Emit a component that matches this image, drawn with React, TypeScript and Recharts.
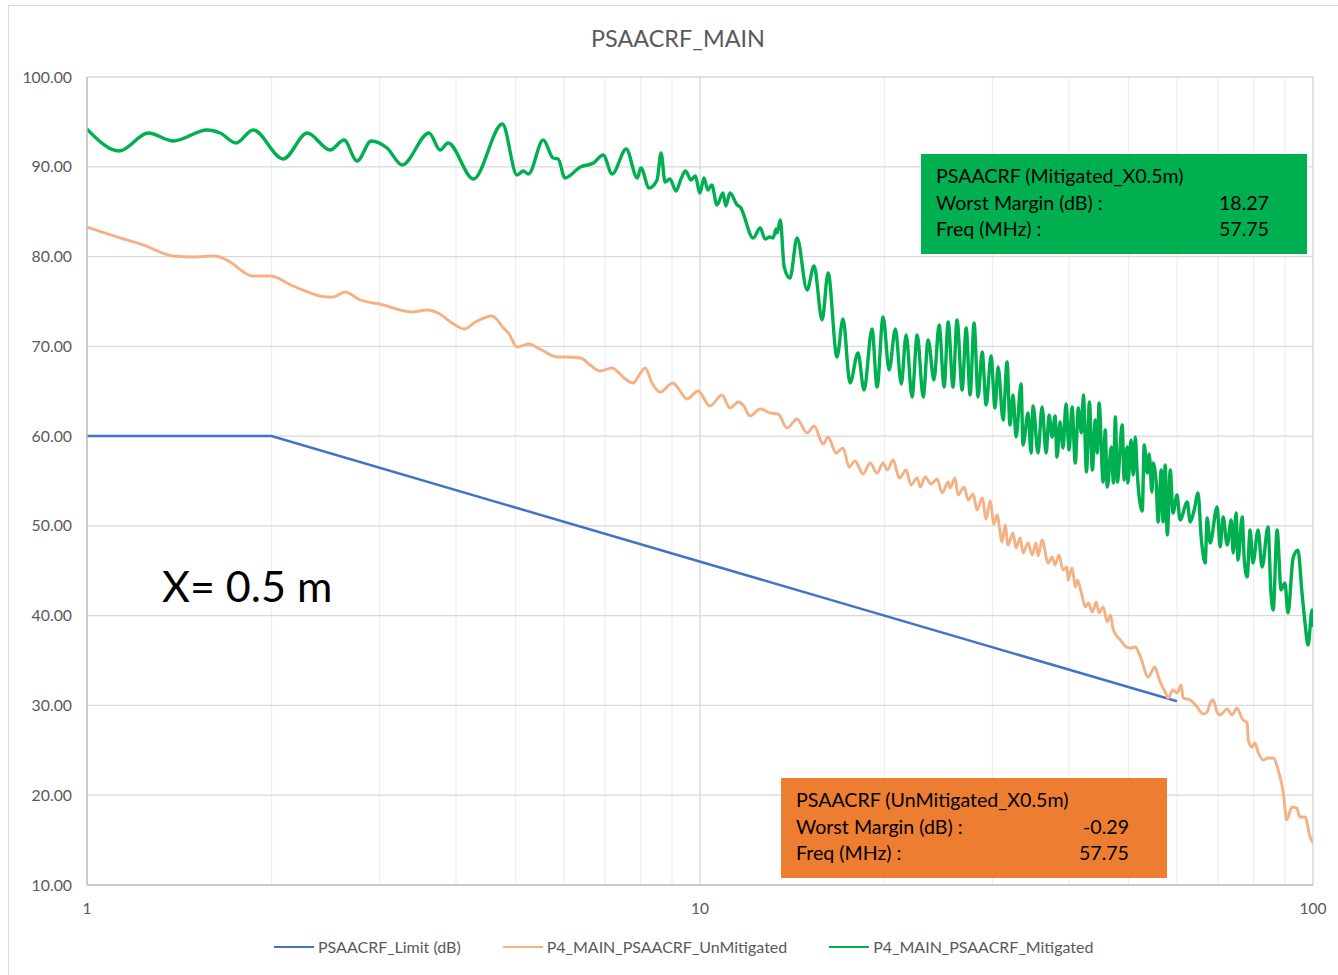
import React from 'react';
import { LineChart, Line, XAxis, YAxis, CartesianGrid } from 'recharts';

const FONT = 'Lato, "Noto Sans", sans-serif';

// limit line (dB)
const limitFreq = [1, 2, 60];
const limitDb = [60, 60, 30.46];

// unmitigated sweep
const unmitFreq = [
  1.0, 1.133, 1.235, 1.382, 1.49, 1.618, 1.692, 1.866, 1.989, 2.17, 2.465, 2.52, 2.637, 2.789, 2.93, 3.0,
  3.12, 3.39, 3.587, 3.739, 3.94, 4.126, 4.3, 4.58, 4.67, 4.78, 4.87, 5.03, 5.25, 5.48, 5.85, 6.02, 6.38,
  6.62, 6.87, 7.19, 7.35, 7.55, 7.78, 7.92, 8.14, 8.35, 8.61, 9.03, 9.21, 9.52, 9.93, 10.38, 10.86, 11.19,
  11.55, 11.76, 12.07, 12.54, 13.0, 13.41, 13.87, 14.4, 14.95, 15.35, 15.88, 16.18, 16.67, 17.11, 17.51,
  17.9, 18.45, 18.94, 19.45, 19.89, 20.2, 20.66, 21.14, 21.69, 22.08, 22.61, 22.87, 23.3, 23.82, 24.37,
  24.83, 25.4, 25.58, 26.06, 26.36, 26.97, 27.38, 27.89, 28.32, 28.86, 29.3, 29.74, 30.17, 30.52, 31.1,
  31.46, 31.8, 32.41, 32.78, 33.28, 33.65, 34.29, 34.82, 35.33, 35.6, 36.14, 36.98, 37.53, 37.95, 38.52,
  39.1, 39.7, 39.85, 40.46, 40.94, 41.26, 41.9, 42.54, 43.02, 43.66, 44.3, 44.78, 45.46, 46.17, 46.71,
  47.24, 48.49, 49.38, 50.3, 51.3, 52.3, 53.85, 55.2, 56.15, 57.4, 58.05, 59.1, 60.0, 60.95, 61.4, 63.05,
  64.7, 66.2, 67.2, 67.95, 68.7, 69.75, 70.55, 72.45, 73.8, 75.15, 76.65, 78.1, 78.4, 79.5, 80.4, 81.35,
  82.9, 84.45, 86.1, 87.75, 89.45, 90.6, 92.4, 94.1, 95.15, 97.05, 98.9, 100,
];
const unmitDb = [
  83.29, 82.07, 81.29, 80.06, 79.95, 80.06, 79.6, 77.83, 77.83, 76.72, 75.5, 75.5, 76.05, 75.16, 74.83, 74.72,
  74.38, 73.83, 74.05, 73.71, 72.6, 71.93, 72.71, 73.38, 72.93, 72.04, 71.49, 69.93, 70.26, 69.7, 68.81, 68.81, 68.7,
  67.92, 67.25, 67.59, 67.14, 66.36, 65.92, 66.58, 67.59, 65.92, 64.91, 65.92, 65.36, 64.13, 65.03, 63.35, 64.58, 63.13,
  63.8, 63.47, 62.24, 63.02, 62.58, 62.46, 60.9, 61.91, 60.35, 61.13, 59.12, 59.9, 58.12, 58.68, 56.56,
  57.23, 55.78, 57.0, 55.89, 57.0, 56.23, 57.34, 55.33, 56.23, 54.56, 55.33, 54.33, 55.45, 54.67, 55.22,
  53.66, 54.89, 54.22, 55.33, 53.44, 54.33, 52.89, 53.55, 51.77, 53.11, 50.77, 52.77, 50.21, 51.21, 48.21,
  50.1, 47.87, 49.21, 47.54, 48.65, 46.98, 48.1, 46.76, 48.1, 46.65, 48.43, 45.87, 46.54, 45.64, 46.76,
  45.09, 45.42, 43.97, 45.31, 43.2, 43.97, 42.53, 40.97, 41.41, 40.41, 41.52, 40.3, 40.97, 39.3, 40.08,
  38.4, 37.29, 36.62, 36.4, 36.51, 35.4, 33.17, 34.28, 32.84, 31.5, 30.83, 31.72, 31.39, 32.28, 30.83, 30.61,
  29.83, 29.05, 29.27, 30.27, 30.61, 29.27, 28.94, 29.61, 28.94, 29.72, 28.49, 28.05, 26.15, 25.37, 25.82, 24.81,
  23.92, 24.15, 24.15, 22.81, 20.25, 17.24, 18.69, 18.58, 17.58, 17.58, 15.35, 14.68,
];

// mitigated sweep
const mitFreq = [
  1.0, 1.129, 1.259, 1.382, 1.57, 1.649, 1.751, 1.866, 2.09, 2.287, 2.493, 2.626, 2.758, 2.908, 3.087, 3.266,
  3.614, 3.767, 3.882, 4.27, 4.76, 5.03, 5.15, 5.25, 5.55, 5.76, 5.87, 6.02, 6.38, 6.7, 6.95, 7.19, 7.58,
  7.9, 8.01, 8.26, 8.51, 8.64, 8.77, 8.93, 9.14, 9.31, 9.47, 9.67, 9.82, 10.0, 10.15, 10.3, 10.45, 10.66,
  10.9, 11.02, 11.19, 11.5, 11.63, 12.21, 12.54, 12.77, 13.0, 13.16, 13.31, 13.36, 13.52, 13.72, 14.02,
  14.4, 14.95, 15.35, 15.82, 16.18, 16.73, 17.11, 17.57, 18.1, 18.52, 19.08, 19.45, 19.89, 20.35, 20.83,
  21.3, 21.69, 22.18, 22.61, 23.13, 23.56, 24.08, 24.55, 25.02, 25.4, 25.87, 26.26, 26.77, 27.18, 27.58,
  28.0, 28.42, 28.86, 29.3, 29.84, 30.29, 30.64, 31.22, 31.69, 32.04, 32.41, 32.78, 33.4, 33.65, 34.29,
  34.68, 34.95, 35.6, 36.14, 36.7, 37.11, 37.53, 37.95, 38.23, 38.67, 39.1, 39.55, 40.0, 40.46, 40.94,
  41.42, 41.9, 42.22, 42.7, 43.18, 43.66, 44.14, 44.46, 44.78, 45.46, 45.82, 46.17, 46.89, 47.24, 47.6,
  47.96, 48.84, 49.2, 49.73, 49.9, 50.49, 50.89, 51.3, 51.67, 52.66, 53.05, 53.64, 54.04, 54.62, 54.82,
  55.45, 55.9, 56.55, 56.95, 57.4, 57.85, 58.5, 59.1, 60.0, 60.7, 62.35, 63.05, 64.0, 64.93, 65.7, 66.7,
  67.2, 67.95, 69.75, 70.55, 71.35, 72.45, 73.55, 74.1, 74.9, 75.45, 76.65, 77.2, 78.1, 78.95, 79.8,
  81.35, 82.6, 84.45, 85.4, 86.1, 87.4, 88.7, 90.0, 91.05, 92.8, 94.5, 95.95, 97.05, 98.15, 99.65, 100,
];
const mitDb = [
  94.2, 91.76, 93.76, 92.87, 94.1, 93.76, 92.65, 94.1, 90.87, 93.76, 91.87, 92.98, 90.64, 92.87, 92.09, 90.2,
  93.76, 91.87, 92.65, 88.64, 94.76, 89.08, 89.53, 89.2, 92.98, 90.98, 90.87, 88.75, 89.98, 90.42, 91.31, 89.2, 91.98,
  88.75, 89.86, 87.64, 88.53, 91.53, 88.3, 88.64, 87.3, 88.64, 89.53, 88.53, 88.97, 87.08, 88.75, 87.41, 87.97, 85.74,
  87.08, 85.63, 87.08, 85.74, 85.52, 82.07, 83.18, 81.96, 82.18, 82.07, 83.07, 82.62, 84.07, 78.84, 77.61,
  82.07, 76.28, 78.95, 72.93, 78.17, 68.81, 73.04, 65.92, 69.26, 65.14, 71.93, 65.47, 73.27, 67.36, 71.93,
  65.8, 71.26, 64.36, 71.26, 64.36, 70.7, 66.25, 72.38, 65.47, 72.71, 65.47, 72.93, 65.14, 72.04, 64.58,
  72.6, 64.36, 69.37, 63.47, 68.92, 63.13, 67.7, 61.8, 68.26, 61.24, 64.58, 59.9, 65.8, 59.0, 62.58,
  58.12, 63.35, 58.12, 63.24, 58.12, 62.35, 59.9, 62.24, 57.67, 61.57, 58.68, 63.58, 58.45, 63.24, 57.0,
  63.13, 60.35, 64.58, 56.0, 63.8, 56.23, 61.8, 58.12, 63.69, 54.89, 60.68, 54.33, 58.79, 54.78, 62.13,
  54.89, 61.24, 55.11, 58.79, 54.78, 59.57, 55.67, 59.9, 55.89, 51.66, 59.01, 55.89, 58.01, 53.78, 57.0,
  55.11, 50.44, 56.23, 50.44, 56.78, 48.99, 56.23, 51.44, 53.44, 50.66, 52.66, 50.44, 51.77, 53.66, 48.76, 45.87,
  50.88, 48.1, 52.1, 47.65, 50.99, 47.87, 50.66, 46.98, 51.44, 46.2, 50.99, 46.54, 44.31, 49.54, 45.87,
  49.54, 45.42, 49.88, 42.53, 40.63, 49.54, 42.86, 43.64, 40.3, 46.43, 47.3, 42.53, 39.19, 36.73, 40.63, 38.74,
];

const xTicks = [1, 10, 100];
const xMinorTicks = [2, 3, 4, 5, 6, 7, 8, 9, 20, 30, 40, 50, 60, 70, 80, 90];
const yTicks = [10, 20, 30, 40, 50, 60, 70, 80, 90, 100];

const seriesNames = ['PSAACRF_Limit (dB)', 'P4_MAIN_PSAACRF_UnMitigated', 'P4_MAIN_PSAACRF_Mitigated'];
const seriesColors = ['#4472c4', '#f4b183', '#00b050'];

const mitigatedBox = ['PSAACRF (Mitigated_X0.5m)', 'Worst Margin (dB) :', '18.27', 'Freq (MHz) :', '57.75'];
const unmitigatedBox = ['PSAACRF (UnMitigated_X0.5m)', 'Worst Margin (dB) :', '-0.29', 'Freq (MHz) :', '57.75'];

const zip = (f: number[], v: number[]) => f.map((x, i) => ({ f: x, v: v[i] }));

function InfoBox({ lines, left, top, bg }: { lines: string[]; left: number; top: number; bg: string }) {
  const row = (label: string, value: string) => (
    <div style={{ display: 'flex', justifyContent: 'space-between' }}>
      <span>{label}</span>
      <span>{value}</span>
    </div>
  );
  return (
    <div
      style={{
        position: 'absolute',
        left,
        top,
        width: 386,
        height: 100,
        boxSizing: 'border-box',
        padding: '9px 38px 0 15px',
        background: bg,
        color: '#000',
        fontFamily: FONT,
        fontSize: 19.6,
        lineHeight: '26.5px',
      }}
    >
      <div>{lines[0]}</div>
      {row(lines[1], lines[2])}
      {row(lines[3], lines[4])}
    </div>
  );
}

export default function App() {
  const limitData = zip(limitFreq, limitDb);
  const unmitData = zip(unmitFreq, unmitDb);
  const mitData = zip(mitFreq, mitDb);

  return (
    <div
      style={{
        position: 'fixed',
        left: 0,
        top: 0,
        width: 1338,
        height: 975,
        overflow: 'hidden',
        background: '#fff',
        fontFamily: FONT,
      }}
    >
      <div
        style={{
          position: 'absolute',
          left: 8,
          top: 5,
          width: 1345,
          height: 990,
          border: '1px solid #d9d9d9',
        }}
      />
      <div
        style={{
          position: 'absolute',
          left: 0,
          top: 24,
          width: 1356,
          textAlign: 'center',
          fontSize: 23.4,
          color: '#595959',
        }}
      >
        PSAACRF_MAIN
      </div>

      <div style={{ position: 'absolute', left: 0, top: 0 }}>
        <LineChart width={1338} height={975} margin={{ top: 77, right: 25, left: 0, bottom: 0 }}>
          <XAxis xAxisId="minor" dataKey="f" type="number" scale="log" domain={[1, 100]} ticks={xMinorTicks} hide allowDataOverflow />
          <CartesianGrid xAxisId="minor" horizontal={false} stroke="#eeeeee" strokeWidth={1.3} />
          <CartesianGrid stroke="#d9d9d9" strokeWidth={1.3} />
          <XAxis
            dataKey="f"
            type="number"
            scale="log"
            domain={[1, 100]}
            ticks={xTicks}
            allowDataOverflow
            height={90}
            tickSize={0}
            tickMargin={18}
            tickLine={false}
            axisLine={{ stroke: '#bfbfbf', strokeWidth: 1.3 }}
            tick={{ fill: '#595959', fontSize: 15.5, fontFamily: FONT }}
          />
          <YAxis
            type="number"
            domain={[10, 100]}
            ticks={yTicks}
            allowDataOverflow
            width={87}
            tickSize={0}
            tickMargin={15}
            tickLine={false}
            axisLine={{ stroke: '#bfbfbf', strokeWidth: 1.3 }}
            tickFormatter={(v: number) => v.toFixed(2)}
            tick={{ fill: '#595959', fontSize: 15.8, fontFamily: FONT }}
          />
          <Line data={limitData} dataKey="v" type="linear" stroke={seriesColors[0]} strokeWidth={2.5} dot={false} isAnimationActive={false} />
          <Line data={unmitData} dataKey="v" type="monotone" stroke={seriesColors[1]} strokeWidth={2.9} dot={false} isAnimationActive={false} />
          <Line data={mitData} dataKey="v" type="monotone" stroke={seriesColors[2]} strokeWidth={3.4} dot={false} isAnimationActive={false} />
        </LineChart>
      </div>

      <div style={{ position: 'absolute', left: 162, top: 560, fontSize: 43, color: '#000' }}>X= 0.5 m</div>

      <InfoBox lines={mitigatedBox} left={921} top={154} bg="#00b050" />
      <InfoBox lines={unmitigatedBox} left={781} top={778} bg="#ed7d31" />

      <div
        style={{
          position: 'absolute',
          left: 274,
          top: 937,
          display: 'flex',
          alignItems: 'center',
          fontSize: 16,
          color: '#595959',
          lineHeight: '20px',
        }}
      >
        {seriesNames.map((name, i) => (
          <div key={name} style={{ display: 'flex', alignItems: 'center', marginRight: 42 }}>
            <span style={{ display: 'inline-block', width: 40, height: 2.5, background: seriesColors[i], marginRight: 4 }} />
            <span>{name}</span>
          </div>
        ))}
      </div>
    </div>
  );
}
